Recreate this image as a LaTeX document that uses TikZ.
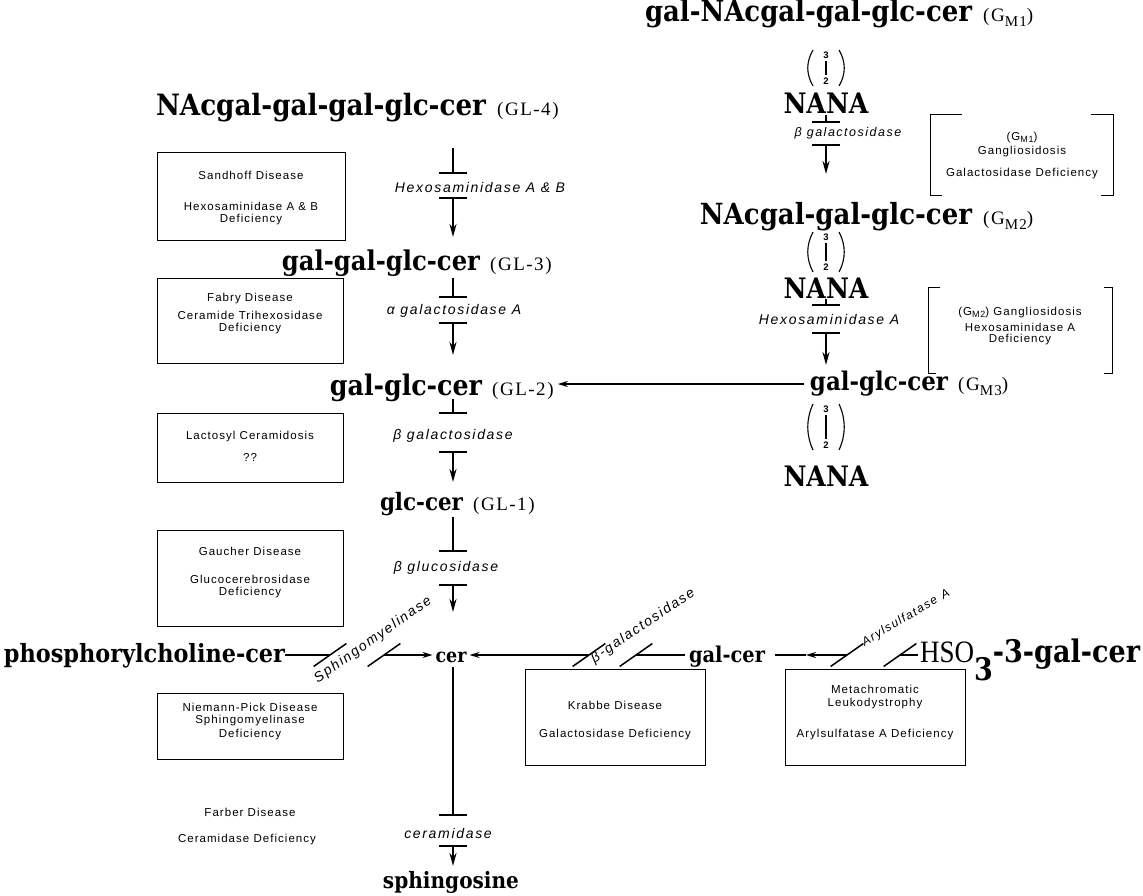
\documentclass[tikz,border=0pt]{standalone}
\usepackage{fontspec}
\setmainfont{Liberation Serif}
\setsansfont{Liberation Sans}
\newfontfamily\bnf{DejaVu Serif}
\newfontfamily\parf{Liberation Serif}[LetterSpace=8]
\newfontfamily\boxf{Liberation Sans}[LetterSpace=9]
\newfontfamily\enzf{Liberation Sans}[LetterSpace=12]
\usetikzlibrary{arrows.meta}
\newcommand\bnm[2]{\resizebox{#1pt}{!}{\scalebox{1}[1.12]{\bnf\bfseries #2}}}
\newcommand\gsub[1]{\raisebox{-5pt}{\fontsize{15}{15}\selectfont #1}}
\newcommand\bsub[1]{\raisebox{-2pt}{\fontsize{9}{9}\selectfont #1}}
% (3|2) linkage mark: thin parentheses, small 3 over 2
\newcommand\lnkmark[4]{% name, x, y, half height
  \draw[line width=1.1pt] (#2-13,#3-#4) .. controls (#2-20,#3-#4/3) and (#2-20,#3+#4/3) .. (#2-13,#3+#4);
  \draw[line width=1.1pt] (#2+13,#3-#4) .. controls (#2+20,#3-#4/3) and (#2+20,#3+#4/3) .. (#2+13,#3+#4);
  \node[sm] (#1t) at (#2,#3-#4+5) {3};
  \node[sm] (#1b) at (#2,#3+#4-5) {2};
  \draw[line width=1.7pt, shorten <=2pt, shorten >=2pt] (#1b.north) -- (#1t.south);}
\newcommand\slashmark[1]{\draw[sl] ([shift={(145:20)}]#1) -- ([shift={(-35:20)}]#1);}
\newcommand\vstep[6]{%
  \coordinate (#1a) at (#2,#3); \coordinate (#1b) at (#2,#4);
  \coordinate (#1c) at (#2,#5); \coordinate (#1d) at (#2,#6);
  \draw[stem] (#1a) -- (#1b);
  \draw[bar] ([xshift=-14pt]#1b) -- ([xshift=14pt]#1b);
  \draw[bar] ([xshift=-14pt]#1c) -- ([xshift=14pt]#1c);
  \draw[arr] (#1c) -- (#1d);}
\begin{document}
\begin{tikzpicture}[x=1pt,y=-1pt,
  nm/.style={inner sep=0pt, outer sep=0pt},
  pr/.style={inner sep=0pt, font=\parf\fontsize{19}{19}\selectfont},
  bt/.style={font=\boxf\fontsize{11.5}{13}\selectfont, inner sep=0pt},
  ez/.style={font=\enzf\itshape\fontsize{14}{16}\selectfont, inner sep=0pt},
  dbox/.style={draw, line width=1pt, inner sep=0pt, anchor=north west},
  hbox/.style={inner sep=0pt, anchor=north west},
  bline/.style={line width=1pt},
  stem/.style={line width=2.2pt},
  bar/.style={line width=1.8pt},
  arr/.style={line width=2.2pt, -{Stealth[length=13pt,width=7pt]}},
  harr/.style={line width=1.6pt, -{Stealth[length=10pt,width=6pt]}},
  hl/.style={line width=1.6pt},
  sl/.style={line width=1.5pt},
  sm/.style={font=\boxf\bfseries\fontsize{9.5}{10}\selectfont, inner sep=0pt},
]
\useasboundingbox (0,0) rectangle (1143,896);

% ---------------- left column ----------------
\node[nm, anchor=base east] (gl4b) at (486,116) {\bnm{330}{NAcgal-gal-gal-glc-cer}};
\node[pr, anchor=base west] (gl4p) at (497,116) {(GL-4)};
\node[nm, anchor=base east] (gl3b) at (480,270) {\bnm{198}{gal-gal-glc-cer}};
\node[pr, anchor=base west] (gl3p) at (490,270) {(GL-3)};
\node[nm, anchor=base east] (gl2b) at (482,395) {\bnm{152}{gal-glc-cer}};
\node[pr, anchor=base west] (gl2p) at (492,395) {(GL-2)};
\node[nm, anchor=base east] (gl1b) at (463,510) {\bnm{83}{glc-cer}};
\node[pr, anchor=base west] (gl1p) at (473,510) {(GL-1)};

\vstep{s1}{453}{148}{173}{198}{237}
\node[ez] (e1) at (480,187) {Hexosaminidase A \& B};
\vstep{s2}{453}{278}{297}{323}{355}
\node[ez] (e2) at (454,311) {α galactosidase A};
\vstep{s3}{453}{399}{413}{452}{482}
\node[ez] (e3) at (453,436) {β galactosidase};
\vstep{s4}{453}{517}{551}{585}{612}
\node[ez] (e4) at (446,568) {β glucosidase};
\vstep{s5}{453}{667}{815}{846}{866}
\node[ez] (e5) at (448,833) {ceramidase};

% disease boxes (left)
\node[dbox, minimum width=188pt, minimum height=88pt] (bx1) at (157,152) {};
\node[bt] (t11) at (251,175) {Sandhoff Disease};
\node[bt] (t12) at (251,206) {Hexosaminidase A \& B};
\node[bt] (t13) at (251,220) {Deficiency};
\node[dbox, minimum width=186pt, minimum height=85pt] (bx2) at (157,278) {};
\node[bt] (t21) at (250,299) {Fabry Disease};
\node[bt] (t22) at (250,315) {Ceramide Trihexosidase};
\node[bt] (t23) at (250,329) {Deficiency};
\node[dbox, minimum width=186pt, minimum height=69pt] (bx3) at (157,413) {};
\node[bt] (t31) at (250,437) {Lactosyl Ceramidosis};
\node[bt] (t32) at (250,457) {??};
\node[dbox, minimum width=186pt, minimum height=96pt] (bx4) at (157,530) {};
\node[bt] (t41) at (250,551) {Gaucher Disease};
\node[bt] (t42) at (250,579) {Glucocerebrosidase};
\node[bt] (t43) at (250,593) {Deficiency};
\node[dbox, minimum width=186pt, minimum height=66pt] (bx5) at (157,693) {};
\node[bt] (t51) at (250,707) {Niemann-Pick Disease};
\node[bt] (t52) at (250,721) {Sphingomyelinase};
\node[bt] (t53) at (250,735) {Deficiency};
\node[bt] (t61) at (250,812) {Farber Disease};
\node[bt] (t62) at (247,840) {Ceramidase Deficiency};

% ---------------- bottom row ----------------
\node[nm, anchor=base west] (phos) at (4,662) {\bnm{281}{phosphorylcholine-cer}};
\node[nm, anchor=base] (cer) at (451,662) {\bnm{31}{cer}};
\node[nm, anchor=base] (galcer) at (727,662) {\bnm{76}{gal-cer}};
\node[nm, anchor=base west] (hso) at (920,662) {\resizebox{220pt}{!}{\scalebox{1}[1.15]{{\rmfamily HSO}\raisebox{-6pt}{\bnf\bfseries 3}\bnf\bfseries -3-gal-cer}}};
\node[nm, anchor=base] (sph) at (451,888) {\bnm{136}{sphingosine}};

\coordinate (ly) at (0,655);
\coordinate (a1) at (330,655); \coordinate (a2) at (384,655);
\draw[hl] (phos.east |- ly) -- (a1);
\slashmark{a1} \slashmark{a2}
\draw[harr, shorten >=3pt] (a2) -- (cer.west |- ly);
\node[ez, rotate=35] (sphm) at (373,640) {Sphingomyelinase};

\coordinate (b1) at (589,655); \coordinate (b2) at (636,655);
\draw[hl, shorten <=4pt] (galcer.west |- ly) -- (b2);
\slashmark{b1} \slashmark{b2}
\draw[harr, shorten >=3pt] (b1) -- (cer.east |- ly);
\node[ez, rotate=34] (bgal) at (643,626) {β-galactosidase};

\coordinate (c1) at (847,655); \coordinate (c2) at (900,655); \coordinate (cm) at (806,655);
\draw[hl, shorten <=2pt] (hso.west |- ly) -- (c2);
\slashmark{c1} \slashmark{c2}
\draw[harr] (c1) -- (cm);
\draw[hl, shorten >=10pt] (cm) -- (galcer.east |- ly);
\node[ez, font=\enzf\itshape\fontsize{12}{14}\selectfont, rotate=31] (aryl) at (906,618) {Arylsulfatase\enspace A};

\node[dbox, minimum width=180pt, minimum height=96pt] (bx7) at (525,669) {};
\node[bt] (t71) at (615,705) {Krabbe Disease};
\node[bt] (t72) at (615,735) {Galactosidase Deficiency};
\node[dbox, minimum width=180pt, minimum height=96pt] (bx8) at (785,669) {};
\node[bt] (t81) at (875,689) {Metachromatic};
\node[bt] (t82) at (875,704) {Leukodystrophy};
\node[bt] (t83) at (875,735) {Arylsulfatase A Deficiency};

% ---------------- right column ----------------
\node[nm, anchor=base east] (gm1b) at (972,22) {\bnm{327}{gal-NAcgal-gal-glc-cer}};
\node[pr, anchor=base west] (gm1p) at (983,22) {(G\gsub{M1})};
\lnkmark{k1}{826}{68}{18}
\node[nm, anchor=base] (nana1) at (826,114) {\bnm{85}{NANA}};
\vstep{r1}{826}{115}{122}{145}{174}
\node[ez, font=\enzf\itshape\fontsize{12.5}{14}\selectfont] (e6) at (848,133.5) {β galactosidase};

\node[nm, anchor=base east] (gm2b) at (972,225) {\bnm{272}{NAcgal-gal-glc-cer}};
\node[pr, anchor=base west] (gm2p) at (983,225) {(G\gsub{M2})};
\lnkmark{k2}{826}{252}{20}
\node[nm, anchor=base] (nana2) at (826,298) {\bnm{85}{NANA}};
\vstep{r2}{826}{299}{305}{333}{365}
\node[ez] (e7) at (829,319) {Hexosaminidase A};

\node[nm, anchor=base east] (gm3b) at (948,390) {\bnm{138}{gal-glc-cer}};
\node[pr, anchor=base west] (gm3p) at (958,390) {(G\gsub{M3})};
\lnkmark{k3}{826}{427}{23}
\node[nm, anchor=base] (nana3) at (826,486) {\bnm{85}{NANA}};

\coordinate (ly2) at (0,384);
\draw[harr, shorten <=6pt, shorten >=4pt] (gm3b.west |- ly2) -- (gl2p.east |- ly2);

% bracket boxes (right)
\node[hbox, minimum width=183pt, minimum height=80pt] (bx9) at (930,115) {};
\draw[bline] ([xshift=32pt]bx9.north west) -- (bx9.north west) -- (bx9.south west) -- ([xshift=12pt]bx9.south west);
\draw[bline] ([xshift=-22pt]bx9.north east) -- (bx9.north east) -- (bx9.south east) -- ([xshift=-12pt]bx9.south east);
\node[bt] (t91) at (1022,138) {(G\bsub{M1})};
\node[bt] (t92) at (1022,152) {Gangliosidosis};
\node[bt] (t93) at (1022,174) {Galactosidase Deficiency};
\node[hbox, minimum width=184pt, minimum height=86pt] (bx10) at (928,287) {};
\draw[bline] ([xshift=12pt]bx10.north west) -- (bx10.north west) -- (bx10.south west) -- ([xshift=8pt]bx10.south west);
\draw[bline] ([xshift=-8pt]bx10.north east) -- (bx10.north east) -- (bx10.south east) -- ([xshift=-8pt]bx10.south east);
\node[bt] (t101) at (1020,313) {(G\bsub{M2}) Gangliosidosis};
\node[bt] (t102) at (1020,327) {Hexosaminidase A};
\node[bt] (t103) at (1020,340) {Deficiency};
\end{tikzpicture}
\end{document}
